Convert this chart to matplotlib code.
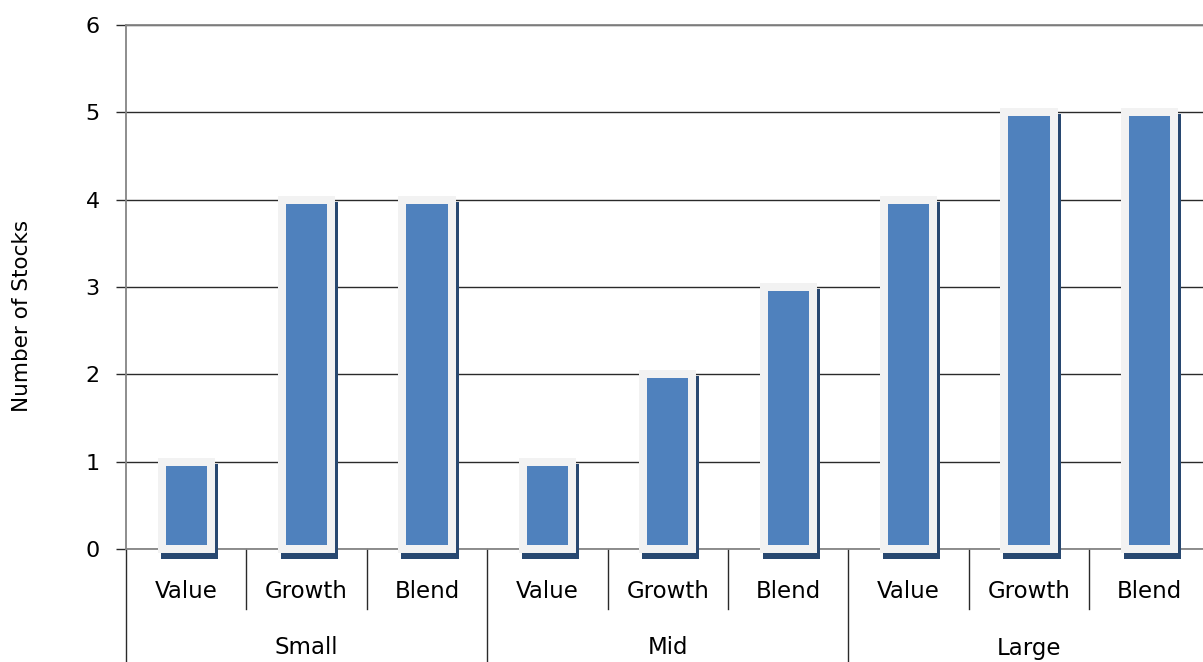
import matplotlib

matplotlib.use("Agg")
import matplotlib.pyplot as plt
import matplotlib.transforms as mtransforms

# stock counts per style box
groups = ["Small", "Mid", "Large"]
styles = ["Value", "Growth", "Blend"]
counts = [1, 4, 4, 1, 2, 3, 4, 5, 5]

_BLUE = "#4f81bd"
_FRAME = "#f2f2f2"
_SHADOW = "#284870"
_GRID = "#2a2a2a"
_AXIS = "#858585"

W, H, DPI = 1203, 662, 100
fig = plt.figure(figsize=(W / DPI, H / DPI), dpi=DPI)
plt.rcParams["font.family"] = "DejaVu Sans"

slot = 120.4  # px per category
ax = fig.add_axes([126 / W, 113 / H, 9 * slot / W, 524 / H])

n = len(counts)
xs = list(range(n))
ax.set_xlim(-0.5, n - 0.5)
ax.set_ylim(0, 6)

bar_w = 0.407
edge_lw = 8 * 72 / DPI

# drop shadow: same outline, shifted right / down
shift = mtransforms.ScaledTranslation(3 / DPI, -6 / DPI, fig.dpi_scale_trans)
ax.bar(xs, counts, width=bar_w, color=_SHADOW, edgecolor=_SHADOW,
       linewidth=edge_lw, zorder=3, clip_on=False,
       transform=ax.transData + shift)
ax.bar(xs, counts, width=bar_w, color=_BLUE, edgecolor=_FRAME,
       linewidth=edge_lw, zorder=4, clip_on=False)

# axes styling
ax.set_yticks(range(0, 7))
ax.yaxis.grid(True, color=_GRID, linewidth=1.0, zorder=0)
ax.set_axisbelow(True)
ax.tick_params(axis="y", length=7, width=1.0, color=_GRID, pad=12,
               labelsize=16, labelcolor="black")
ax.set_xticks([])
for side in ("right",):
    ax.spines[side].set_visible(False)
for side in ("left", "bottom", "top"):
    ax.spines[side].set_color(_AXIS)
    ax.spines[side].set_linewidth(1.3)
    ax.spines[side].set_zorder(2)

# two-level category axis below the plot
px = 1 / 524
blend = mtransforms.blended_transform_factory(ax.transData, ax.transAxes)
for i, name in enumerate(styles * len(groups)):
    ax.text(i, -43 * px, name, transform=blend, ha="center", va="center",
            fontsize=16.5)
for b in range(n + 1):
    edge = b - 0.5
    low = -113 * px if b % 3 == 0 else -60 * px
    ax.plot([edge, edge], [0, low], transform=blend, color=_GRID,
            linewidth=1.0, clip_on=False)
for g, name in enumerate(groups):
    ax.text(3 * g + 1, -99 * px, name, transform=blend, ha="center",
            va="center", fontsize=16.5)

fig.text(22 / W, 1 - 316 / H, "Number of Stocks", rotation=90,
         ha="center", va="center", fontsize=15.5)

fig.savefig("out.png", dpi=DPI, facecolor="white")
